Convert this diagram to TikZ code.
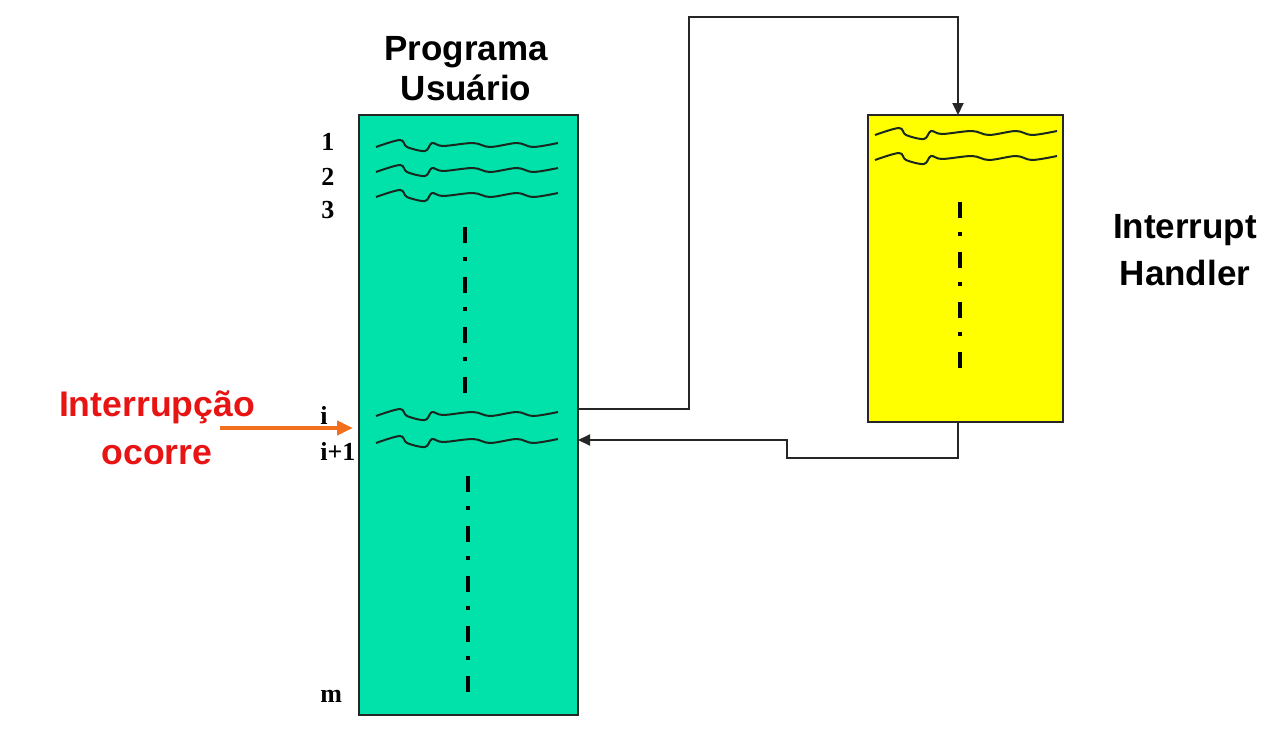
\documentclass[tikz,border=0pt]{standalone}
\usepackage{fontspec}
\setmainfont{Liberation Serif}
\newfontfamily\arialfont{Liberation Sans}
\usetikzlibrary{arrows.meta}
\definecolor{progcol}{RGB}{0,226,170}
\definecolor{handcol}{RGB}{255,255,0}
\definecolor{redtext}{RGB}{232,20,20}
\definecolor{orangecol}{RGB}{240,112,30}
\definecolor{wavecol}{RGB}{25,40,30}
\tikzset{
  boxstyle/.style={draw=black!85, line width=1pt, inner sep=0pt, outer sep=0pt},
  titletext/.style={font=\arialfont\bfseries\fontsize{17.5}{20}\selectfont, inner sep=0pt, anchor=base},
  redlabel/.style={titletext, text=redtext, font=\arialfont\bfseries\fontsize{17.8}{20}\selectfont},
  numlabel/.style={font=\bfseries\fontsize{13}{15}\selectfont, inner sep=0pt, anchor=base west},
  conn/.style={line width=1pt, black!85, -{Triangle[length=6pt,width=5.5pt]}},
  orangearrow/.style={line width=2.2pt, orangecol, -{Triangle[length=8pt,width=7pt]}},
  wavestyle/.style={line width=1pt, wavecol},
  dashdot/.style={line width=2.3pt, black, dash pattern=on 8pt off 6.8pt on 2.2pt off 8pt},
  wave/.pic={\draw[wavestyle] plot[smooth, tension=0.55] coordinates {(0,0) (24,-7) (31,0) (49,4) (56,-4) (67,-1) (97,-4) (114,0) (141,-4) (157,0) (182,-4)};}
}
\begin{document}
\begin{tikzpicture}[x=0.5pt, y=-0.5pt]
\useasboundingbox (0,0) rectangle (1280,734);

% boxes
\node[boxstyle, fill=progcol, minimum width=109.5pt, minimum height=300pt] (gbox) at (468.5,415) {};
\node[boxstyle, fill=handcol, minimum width=97.5pt, minimum height=153.5pt] (ybox) at (965.5,268.5) {};

% titles
\node[titletext] (t1) at (466,60) {Programa};
\node[titletext] (t2) at (466,100) {Usuário};
\node[titletext] (h1) at (1185,238) {Interrupt};
\node[titletext] (h2) at (1185,285) {Handler};
\node[redlabel] (r1) at (157,416) {Interrupção};
\node[redlabel] (r2) at (157,464) {ocorre};

% line numbers
\node[numlabel] (n1) at (321,150) {1};
\node[numlabel] (n2) at (321,185) {2};
\node[numlabel] (n3) at (321,218) {3};
\node[numlabel] (ni) at (320,424) {i};
\node[numlabel] (ni1) at (320,460) {i+1};
\node[numlabel] (nm) at (320,702) {m};

% waves in user program
\pic at (376,147) {wave};
\pic at (376,172) {wave};
\pic at (376,197) {wave};
\pic at (376,416) {wave};
\pic at (376,443) {wave};
% waves in handler
\pic at (875,135) {wave};
\pic at (875,160) {wave};

% dash-dot continuation marks
\draw[dashdot] (465,227) -- (465,395);
\draw[dashdot] (468,476) -- (468,692);
\draw[dashdot] (960,202) -- (960,371);

% connectors
\draw[conn] (gbox.east |- 0,409) -- (689,409) |- (958,17) -- (958,0 |- ybox.north);
\draw[conn] (958,0 |- ybox.south) -- (958,458) -| (787,440) -- (gbox.east |- 0,440);

% interrupt arrow
\coordinate (ostart) at (220,428);
\draw[orangearrow, shorten >=3pt] (ostart) -- (gbox.west |- 0,428);
\end{tikzpicture}
\end{document}
